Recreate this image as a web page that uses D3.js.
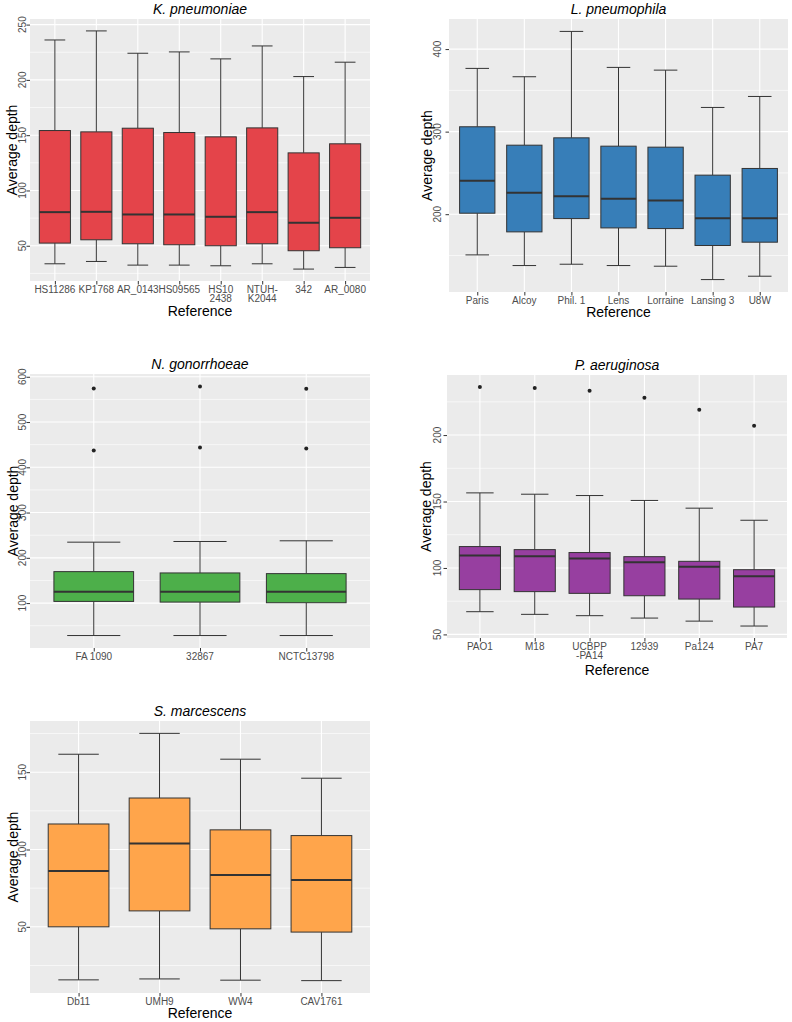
<!DOCTYPE html>
<html>
<head>
<meta charset="utf-8">
<script src="https://cdn.jsdelivr.net/npm/d3@7"></script>
<style>
  body { margin: 0; background: #fff; }
  svg { display: block; font-family: "Liberation Sans", Arial, sans-serif; }
</style>
</head>
<body>
<svg id="chart" width="792" height="1022"></svg>
<script>
// K. pneumoniae
var kpRefs = ["HS11286", "KP1768", "AR_0143", "HS09565", "HS10\n2438", "NTUH-\nK2044", "342", "AR_0080"];
var kpLower = [33.7, 35.8, 32.5, 32.5, 31.9, 33.7, 28.9, 30.4];
var kpQ1 = [52.4, 55.4, 51.8, 50.9, 50.0, 51.8, 45.5, 48.2];
var kpMedian = [80.4, 80.7, 78.3, 78.3, 76.2, 80.4, 70.8, 75.3];
var kpQ3 = [154.2, 153.0, 156.3, 152.4, 148.5, 156.6, 134.0, 142.2];
var kpUpper = [236.1, 244.3, 224.1, 225.3, 219.0, 230.7, 203.0, 216.0];
var kpTicks = [50, 100, 150, 200, 250];

// L. pneumophila
var lpRefs = ["Paris", "Alcoy", "Phil. 1", "Lens", "Lorraine", "Lansing 3", "U8W"];
var lpLower = [150.7, 137.8, 139.4, 137.8, 137.0, 120.8, 124.9];
var lpQ1 = [201.2, 178.6, 194.7, 183.4, 182.6, 162.1, 166.1];
var lpMedian = [240.4, 225.9, 221.8, 218.6, 216.6, 195.2, 195.2];
var lpQ3 = [305.9, 283.6, 292.5, 282.4, 281.2, 247.3, 255.4];
var lpUpper = [376.6, 366.5, 421.4, 377.8, 374.5, 329.3, 342.6];
var lpTicks = [200, 300, 400];

// N. gonorrhoeae
var ngRefs = ["FA 1090", "32867", "NCTC13798"];
var ngLower = [28.3, 28.3, 28.3];
var ngQ1 = [103.7, 102.2, 100.8];
var ngMedian = [125.2, 125.2, 125.2];
var ngQ3 = [169.5, 166.6, 165.1];
var ngUpper = [234.6, 236.1, 237.6];
var ngOutliers = [[437.3, 574.1], [444.0, 578.6], [441.7, 573.4]];
var ngTicks = [100, 200, 300, 400, 500, 600];

// P. aeruginosa
var paRefs = ["PAO1", "M18", "UCBPP\n-PA14", "12939", "Pa124", "PA7"];
var paLower = [67.1, 65.1, 64.1, 62.3, 60.0, 56.3];
var paQ1 = [83.7, 82.2, 80.9, 79.1, 76.6, 70.6];
var paMedian = [109.3, 108.8, 107.1, 104.3, 101.0, 93.7];
var paQ3 = [116.1, 113.8, 111.6, 108.5, 105.0, 98.7];
var paUpper = [156.5, 155.5, 154.5, 150.8, 145.0, 135.9];
var paOutliers = [[236.2], [235.4], [233.4], [228.1], [219.1], [207.0]];
var paTicks = [50, 100, 150, 200];

// S. marcescens
var smRefs = ["Db11", "UMH9", "WW4", "CAV1761"];
var smLower = [15.7, 16.3, 15.5, 15.2];
var smQ1 = [50.0, 60.3, 48.7, 46.6];
var smMedian = [86.1, 103.9, 83.5, 80.3];
var smQ3 = [116.5, 133.3, 112.7, 109.0];
var smUpper = [161.6, 175.1, 158.4, 146.1];
var smTicks = [50, 100, 150];

var svg = d3.select('#chart');

var panels = [
  {title: 'K. pneumoniae', refs: kpRefs, lower: kpLower, q1: kpQ1, med: kpMedian, q3: kpQ3, upper: kpUpper,
   out: null, ticks: kpTicks, fill: '#E4444A',
   left: 30, right: 370, top: 19, bottom: 281, tickX: 22, titleX: 12.5, xTitleY: 316},
  {title: 'L. pneumophila', refs: lpRefs, lower: lpLower, q1: lpQ1, med: lpMedian, q3: lpQ3, upper: lpUpper,
   out: null, ticks: lpTicks, fill: '#377EB8',
   left: 449, right: 788, top: 19, bottom: 292, tickX: 437, titleX: 427, xTitleY: 317},
  {title: 'N. gonorrhoeae', refs: ngRefs, lower: ngLower, q1: ngQ1, med: ngMedian, q3: ngQ3, upper: ngUpper,
   out: ngOutliers, ticks: ngTicks, fill: '#4DAF4A',
   left: 30, right: 370, top: 374, bottom: 648, tickX: 22, titleX: 13, xTitleY: null},
  {title: 'P. aeruginosa', refs: paRefs, lower: paLower, q1: paQ1, med: paMedian, q3: paQ3, upper: paUpper,
   out: paOutliers, ticks: paTicks, fill: '#973FA0',
   left: 447, right: 787, top: 375, bottom: 638, tickX: 437.5, titleX: 426, xTitleY: 675},
  {title: 'S. marcescens', refs: smRefs, lower: smLower, q1: smQ1, med: smMedian, q3: smQ3, upper: smUpper,
   out: null, ticks: smTicks, fill: '#FFA54B',
   left: 30, right: 370, top: 721, bottom: 993, tickX: 22, titleX: 13, xTitleY: 1018}
];

panels.forEach(drawPanel);

function drawPanel(p) {
  var g = svg.append('g');
  var allVals = p.lower.concat(p.upper);
  if (p.out) p.out.forEach(function(o) { allVals = allVals.concat(o); });
  var lo = d3.min(allVals), hi = d3.max(allVals);
  var pad = (hi - lo) * 0.05;

  var y = d3.scaleLinear().domain([lo - pad, hi + pad]).range([p.bottom, p.top]);
  var x = d3.scalePoint().domain(p.refs).range([p.left, p.right]).padding(0.6);
  var step = x.step();

  // background
  g.append('rect')
    .attr('x', p.left).attr('y', p.top)
    .attr('width', p.right - p.left).attr('height', p.bottom - p.top)
    .style('fill', '#EBEBEB');

  // minor grid
  var tStep = p.ticks[1] - p.ticks[0];
  var minor = [];
  for (var v = p.ticks[0] - tStep / 2; v <= p.ticks[p.ticks.length - 1] + tStep; v += tStep) {
    if (v >= y.domain()[0] && v <= y.domain()[1]) minor.push(v);
  }
  g.selectAll('.minor').data(minor).enter().append('line')
    .attr('x1', p.left).attr('x2', p.right)
    .attr('y1', function(d) { return y(d); }).attr('y2', function(d) { return y(d); })
    .style('stroke', '#fff').style('stroke-width', 0.6);

  // major grid
  g.selectAll('.major').data(p.ticks).enter().append('line')
    .attr('x1', p.left).attr('x2', p.right)
    .attr('y1', function(d) { return y(d); }).attr('y2', function(d) { return y(d); })
    .style('stroke', '#fff').style('stroke-width', 1.1);
  g.selectAll('.vmajor').data(p.refs).enter().append('line')
    .attr('x1', function(d) { return x(d); }).attr('x2', function(d) { return x(d); })
    .attr('y1', p.top).attr('y2', p.bottom)
    .style('stroke', '#fff').style('stroke-width', 1.1);

  // y axis ticks + labels
  var yAx = g.append('g').attr('transform', 'translate(' + p.left + ',0)')
    .call(d3.axisLeft(y).tickValues(p.ticks).tickSize(3.5).tickFormat(''));
  yAx.select('.domain').remove();
  yAx.selectAll('line').style('stroke', '#333').style('stroke-width', 1);

  g.selectAll('.ylab').data(p.ticks).enter().append('text')
    .attr('transform', function(d) { return 'translate(' + p.tickX + ',' + y(d) + ') rotate(-90)'; })
    .attr('dy', '0.35em')
    .attr('text-anchor', 'middle')
    .style('font-size', '10px')
    .style('fill', '#4D4D4D')
    .text(function(d) { return d; });

  // x axis ticks + labels
  var xAx = g.append('g').attr('transform', 'translate(0,' + p.bottom + ')')
    .call(d3.axisBottom(x).tickSize(3.5).tickFormat(''));
  xAx.select('.domain').remove();
  xAx.selectAll('line').style('stroke', '#333').style('stroke-width', 1);

  p.refs.forEach(function(r) {
    var lines = r.split('\n');
    var t = g.append('text')
      .attr('x', x(r)).attr('y', p.bottom + 11.5)
      .attr('text-anchor', 'middle')
      .style('font-size', '10px')
      .style('fill', '#4D4D4D');
    lines.forEach(function(l, i) {
      t.append('tspan').attr('x', x(r)).attr('dy', i === 0 ? 0 : 9.5).text(l);
    });
  });

  // titles
  g.append('text')
    .attr('x', (p.left + p.right) / 2).attr('y', p.top - 5.5)
    .attr('text-anchor', 'middle')
    .style('font-size', '14px').style('font-style', 'italic')
    .text(p.title);

  g.append('text')
    .attr('transform', 'translate(' + p.titleX + ',' + (p.top + p.bottom) / 2 + ') rotate(-90)')
    .attr('dy', '0.35em')
    .attr('text-anchor', 'middle')
    .style('font-size', '14px')
    .text('Average depth');

  if (p.xTitleY) {
    g.append('text')
      .attr('x', (p.left + p.right) / 2).attr('y', p.xTitleY)
      .attr('text-anchor', 'middle')
      .style('font-size', '14px')
      .text('Reference');
  }

  // boxes
  var bw = step * 0.75, cw = step * 0.5;
  var boxes = g.selectAll('.box').data(p.refs).enter().append('g');

  boxes.append('line')
    .attr('x1', function(d) { return x(d); }).attr('x2', function(d) { return x(d); })
    .attr('y1', function(d, i) { return y(p.upper[i]); }).attr('y2', function(d, i) { return y(p.q3[i]); })
    .style('stroke', '#333').style('stroke-width', 1);
  boxes.append('line')
    .attr('x1', function(d) { return x(d); }).attr('x2', function(d) { return x(d); })
    .attr('y1', function(d, i) { return y(p.q1[i]); }).attr('y2', function(d, i) { return y(p.lower[i]); })
    .style('stroke', '#333').style('stroke-width', 1);
  boxes.append('line')
    .attr('x1', function(d) { return x(d) - cw / 2; }).attr('x2', function(d) { return x(d) + cw / 2; })
    .attr('y1', function(d, i) { return y(p.upper[i]); }).attr('y2', function(d, i) { return y(p.upper[i]); })
    .style('stroke', '#333').style('stroke-width', 1);
  boxes.append('line')
    .attr('x1', function(d) { return x(d) - cw / 2; }).attr('x2', function(d) { return x(d) + cw / 2; })
    .attr('y1', function(d, i) { return y(p.lower[i]); }).attr('y2', function(d, i) { return y(p.lower[i]); })
    .style('stroke', '#333').style('stroke-width', 1);

  boxes.append('rect')
    .attr('x', function(d) { return x(d) - bw / 2; })
    .attr('width', bw)
    .attr('y', function(d, i) { return y(p.q3[i]); })
    .attr('height', function(d, i) { return y(p.q1[i]) - y(p.q3[i]); })
    .style('fill', p.fill)
    .style('stroke', '#333').style('stroke-width', 1);

  boxes.append('line')
    .attr('x1', function(d) { return x(d) - bw / 2; }).attr('x2', function(d) { return x(d) + bw / 2; })
    .attr('y1', function(d, i) { return y(p.med[i]); }).attr('y2', function(d, i) { return y(p.med[i]); })
    .style('stroke', '#333').style('stroke-width', 2);

  // outliers
  if (p.out) {
    p.refs.forEach(function(r, i) {
      g.selectAll(null).data(p.out[i]).enter().append('circle')
        .attr('cx', x(r)).attr('cy', function(d) { return y(d); })
        .attr('r', 2)
        .style('fill', '#222');
    });
  }
}
</script>
</body>
</html>
